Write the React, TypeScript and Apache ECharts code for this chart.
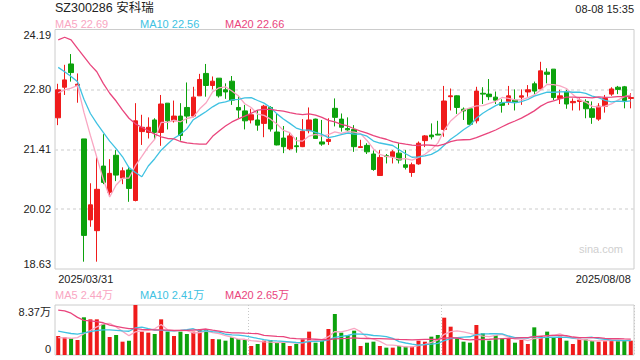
import React, { useEffect, useRef } from "react";
import * as echarts from "echarts";

const dates = [
  "2025/03/31",
  "2025/04/01","2025/04/02","2025/04/03","2025/04/07","2025/04/08","2025/04/09","2025/04/10","2025/04/11",
  "2025/04/14","2025/04/15","2025/04/16","2025/04/17","2025/04/18","2025/04/21","2025/04/22","2025/04/23",
  "2025/04/24","2025/04/25","2025/04/28","2025/04/29","2025/04/30",
  "2025/05/06","2025/05/07","2025/05/08","2025/05/09","2025/05/12","2025/05/13","2025/05/14","2025/05/15",
  "2025/05/16","2025/05/19","2025/05/20","2025/05/21","2025/05/22","2025/05/23","2025/05/26","2025/05/27",
  "2025/05/28","2025/05/29","2025/05/30",
  "2025/06/03","2025/06/04","2025/06/05","2025/06/06","2025/06/09","2025/06/10","2025/06/11","2025/06/12",
  "2025/06/13","2025/06/16","2025/06/17","2025/06/18","2025/06/19","2025/06/20","2025/06/23","2025/06/24",
  "2025/06/25","2025/06/26","2025/06/27","2025/06/30",
  "2025/07/01","2025/07/02","2025/07/03","2025/07/04","2025/07/07","2025/07/08","2025/07/09","2025/07/10",
  "2025/07/11","2025/07/14","2025/07/15","2025/07/16","2025/07/17","2025/07/18","2025/07/21","2025/07/22",
  "2025/07/23","2025/07/24","2025/07/25","2025/07/28","2025/07/29","2025/07/30","2025/07/31",
  "2025/08/01","2025/08/04","2025/08/05","2025/08/06","2025/08/07","2025/08/08",
];

const opens = [
  22.14, 22.85, 23.39, 22.89, 21.65, 19.77, 19.52, 21.02, 20.41, 21.27,
  20.74, 20.93, 20.22, 21.82, 21.80, 22.09, 21.80, 22.48, 22.07, 22.18,
  22.38, 22.18, 22.65, 23.17, 22.89, 23.06, 22.79, 22.99, 22.38, 22.30,
  22.09, 22.09, 22.01, 22.38, 21.81, 21.67, 21.42, 21.49, 21.47, 21.84,
  22.11, 21.58, 21.59, 22.36, 22.11, 21.89, 21.87, 21.45, 21.50, 21.30,
  20.80, 21.26, 21.24, 21.32, 21.05, 20.87, 21.07, 21.61, 21.74, 21.76,
  21.87, 22.63, 22.65, 22.34, 22.35, 22.07, 22.71, 22.69, 22.62, 22.49,
  22.52, 22.55, 22.62, 22.74, 22.93, 22.81, 23.20, 23.27, 22.59, 22.74,
  22.49, 22.52, 22.52, 22.35, 22.11, 22.41, 22.69, 22.85, 22.86, 22.59,
];
const closes = [
  22.79, 23.02, 23.19, 22.92, 19.41, 20.12, 20.48, 20.64, 20.85, 20.81,
  20.91, 20.50, 22.07, 21.92, 21.92, 21.80, 22.46, 22.07, 22.18, 21.73,
  22.18, 22.62, 23.03, 22.89, 22.99, 22.65, 22.74, 22.55, 22.32, 22.07,
  22.21, 21.97, 22.41, 21.88, 21.51, 21.47, 21.72, 21.47, 21.83, 22.09,
  21.66, 21.53, 21.64, 22.15, 21.92, 21.86, 21.47, 21.47, 21.35, 20.94,
  21.22, 21.24, 21.35, 21.16, 20.99, 21.05, 21.55, 21.72, 21.70, 21.74,
  22.53, 22.65, 22.38, 22.30, 21.99, 22.76, 22.69, 22.63, 22.55, 22.43,
  22.65, 22.51, 22.65, 22.79, 22.76, 23.23, 23.15, 22.61, 22.65, 22.46,
  22.52, 22.55, 22.35, 22.15, 22.41, 22.59, 22.81, 22.80, 22.54, 22.61,
];
const lows = [
  21.97, 22.67, 22.98, 22.49, 18.80, 19.61, 18.80, 20.60, 20.33, 20.67,
  20.60, 20.19, 20.20, 21.51, 21.66, 21.63, 21.49, 21.87, 22.03, 21.61,
  22.01, 22.15, 22.65, 22.63, 22.80, 22.61, 22.58, 22.44, 22.13, 21.87,
  22.01, 21.84, 21.69, 21.82, 21.50, 21.32, 21.39, 21.33, 21.46, 21.78,
  21.65, 21.49, 21.51, 21.94, 21.82, 21.84, 21.35, 21.45, 21.30, 20.91,
  20.79, 21.08, 21.08, 21.08, 20.94, 20.77, 21.05, 21.46, 21.64, 21.74,
  21.70, 22.31, 22.23, 22.09, 21.97, 22.01, 22.46, 22.55, 22.46, 22.26,
  22.44, 22.31, 22.44, 22.63, 22.69, 22.80, 22.94, 22.55, 22.46, 22.35,
  22.31, 22.31, 22.13, 22.00, 22.07, 22.26, 22.65, 22.69, 22.36, 22.36,
];
const highs = [
  22.93, 23.37, 23.62, 23.17, 21.65, 20.62, 21.22, 21.76, 21.18, 21.39,
  20.99, 21.01, 22.48, 22.21, 22.15, 22.13, 22.67, 22.48, 22.54, 22.48,
  22.96, 22.86, 23.16, 23.39, 23.10, 23.06, 22.94, 23.11, 22.65, 22.44,
  22.35, 22.32, 22.44, 22.41, 22.24, 21.95, 21.78, 21.69, 22.11, 22.38,
  22.12, 22.09, 22.13, 22.59, 22.24, 22.15, 21.97, 21.63, 21.55, 21.38,
  21.39, 21.30, 21.39, 21.55, 21.39, 21.10, 21.59, 21.74, 22.01, 22.07,
  22.88, 22.82, 22.66, 22.38, 22.35, 22.86, 22.85, 23.04, 22.75, 22.57,
  22.88, 22.80, 22.80, 22.90, 22.98, 23.44, 23.29, 23.27, 22.79, 22.79,
  22.59, 22.59, 22.57, 22.52, 22.48, 22.67, 22.85, 22.88, 22.88, 22.71,
];

// volumes in 万
const volumes = [
  3.18, 2.96, 2.79, 2.51, 6.31, 5.97, 5.97, 5.19, 3.01, 3.35,
  2.23, 2.40, 8.37, 3.91, 3.74, 3.52, 5.97, 3.91, 3.18, 3.91,
  3.52, 3.91, 4.30, 4.30, 2.68, 2.62, 2.40, 2.96, 2.68, 2.51,
  1.51, 1.84, 2.40, 2.51, 2.06, 2.06, 1.51, 1.84, 2.62, 3.91,
  2.06, 2.40, 4.35, 6.86, 3.74, 3.35, 4.07, 1.51, 2.06, 2.23,
  1.51, 1.23, 1.23, 1.51, 1.40, 1.40, 2.40, 2.23, 3.07, 3.35,
  6.25, 4.74, 2.79, 2.23, 2.06, 5.02, 3.63, 2.40, 3.35, 2.79,
  2.79, 2.06, 2.51, 1.84, 4.63, 3.18, 3.91, 2.96, 3.07, 2.40,
  1.84, 2.73, 2.62, 2.34, 2.23, 2.30, 2.50, 2.50, 2.50, 2.40,
];

// leading moving-average values (their windows reach before the visible range)
const priceMa5Lead = [22.72, 22.79, 22.83, 22.89];
const priceMa10Lead = [23.31, 23.21, 23.1, 22.98, 22.57, 22.24, 22.01, 21.8, 21.6];
const priceMa20Lead = [
  23.95, 24.01, 23.95, 23.75, 23.56, 23.37, 23.21, 22.94, 22.71, 22.53,
  22.32, 22.13, 22.0, 21.92, 21.84, 21.76, 21.7, 21.66, 21.65,
];
const volMa5Lead = [2.9, 2.85, 2.8, 2.9];
const volMa10Lead = [4.0, 3.8, 3.6, 3.5, 3.7, 3.9, 4.1, 4.2, 4.2];
const volMa20Lead = [
  7.5, 7.4, 7.0, 6.3, 5.8, 5.7, 5.6, 5.4, 5.0, 4.8,
  4.6, 4.4, 4.4, 4.3, 4.25, 4.2, 4.2, 4.15, 4.1,
];

const priceTickLabels = ["18.63", "20.02", "21.41", "22.80", "24.19"];
const volTickLabels = ["0", "8.37万"];
const priceMaLegend = ["MA5 22.69", "MA10 22.56", "MA20 22.66"];
const volMaLegend = ["MA5 2.44万", "MA10 2.41万", "MA20 2.65万"];
const titleText = "SZ300286 安科瑞";
const timeText = "08-08 15:35";

const RED = "#ef1b1b";
const GREEN = "#0ca20c";
const MA5C = "#f9a6c2";
const MA10C = "#40c2e2";
const MA20C = "#e9457d";
const FONT = "'Liberation Sans', Arial, 'Noto Sans CJK SC', sans-serif";

function movingAverage(values: number[], n: number, lead: number[]) {
  return values.map((_, i) => {
    if (i < lead.length) return lead[i];
    let s = 0;
    for (let k = i - n + 1; k <= i; k++) s += values[k];
    return Math.round((s / n) * 1000) / 1000;
  });
}

export default function App() {
  const ref = useRef<HTMLDivElement>(null);
  useEffect(() => {
    if (!ref.current) return;
    const chart = echarts.init(ref.current, undefined, { renderer: "svg" });
    const candleData = opens.map((o, i) => [o, closes[i], lows[i], highs[i]]);
    const volData = volumes.map((v, i) => ({
      value: v,
      itemStyle: { color: closes[i] >= opens[i] ? RED : GREEN },
    }));
    const maLine = (name: string, data: number[], color: string, axis: number) => ({
      name,
      type: "line",
      xAxisIndex: axis,
      yAxisIndex: axis,
      data,
      symbol: "none",
      showSymbol: false,
      silent: true,
      lineStyle: { color, width: 1.3 },
      z: 3,
    });
    const legendColors = [MA5C, MA10C, MA20C];
    const legendX = [55, 140, 225];
    const graphic: any[] = [
      {
        type: "text",
        x: 55,
        y: 8,
        style: { text: titleText, fontSize: 12.5, fill: "#222", fontFamily: FONT, align: "left", verticalAlign: "middle" },
      },
      {
        type: "text",
        x: 634,
        y: 9,
        style: { text: timeText, fontSize: 11, fill: "#222", fontFamily: FONT, align: "right", verticalAlign: "middle" },
      },
      {
        type: "text",
        x: 623,
        y: 249,
        style: { text: "sina.com", fontSize: 11, fill: "#cfcfcf", fontFamily: FONT, align: "right", verticalAlign: "middle" },
      },
    ];
    priceMaLegend.forEach((t, k) =>
      graphic.push({
        type: "text",
        x: legendX[k],
        y: 24,
        style: { text: t, fontSize: 11, fill: legendColors[k], fontFamily: FONT, align: "left", verticalAlign: "middle" },
      })
    );
    volMaLegend.forEach((t, k) =>
      graphic.push({
        type: "text",
        x: legendX[k],
        y: 295,
        style: { text: t, fontSize: 11, fill: legendColors[k], fontFamily: FONT, align: "left", verticalAlign: "middle" },
      })
    );

    const labelStyle = { fontSize: 11, color: "#222", fontFamily: FONT };
    chart.setOption({
      animation: false,
      backgroundColor: "#fff",
      graphic,
      grid: [
        { left: 55, right: 6, top: 29.5, height: 239.5, show: true, borderColor: "#cccccc", borderWidth: 1 },
        { left: 55, right: 6, top: 305, bottom: 5, show: true, borderColor: "#cccccc", borderWidth: 1 },
      ],
      xAxis: [
        {
          type: "category",
          gridIndex: 0,
          data: dates,
          boundaryGap: true,
          axisLine: { show: false },
          axisTick: { show: false },
          splitLine: { show: false },
          axisLabel: {
            ...labelStyle,
            margin: 4,
            interval: (i: number) => i === 0 || i === dates.length - 1,
            alignMinLabel: "left",
            alignMaxLabel: "right",
          },
        },
        {
          type: "category",
          gridIndex: 1,
          data: dates,
          boundaryGap: true,
          axisLine: { show: false },
          axisTick: { show: false },
          axisLabel: { show: false },
          splitLine: {
            show: true,
            interval: (i: number) => i === 30 || i === 60,
            lineStyle: { color: "#c8c8c8", type: [1, 2], width: 1 },
          },
        },
      ],
      yAxis: [
        {
          type: "value",
          gridIndex: 0,
          min: 18.63,
          max: 24.19,
          interval: 1.39,
          axisLine: { show: false },
          axisTick: { show: false },
          splitLine: {
            show: true,
            showMinLine: false,
            showMaxLine: false,
            lineStyle: { color: "#dddddd", type: [3, 3], width: 1.5 },
          },
          axisLabel: {
            ...labelStyle,
            margin: 4,
            formatter: (_v: number, idx: number) => {
              const t = priceTickLabels[idx];
              if (idx === 0) return `{b|${t}}`;
              if (idx === priceTickLabels.length - 1) return `{t|${t}}`;
              return `{m|${t}}`;
            },
            rich: {
              b: { ...labelStyle, padding: [0, 0, 10, 0] },
              t: { ...labelStyle, padding: [11, 0, 0, 0] },
              m: { ...labelStyle },
            },
          },
        },
        {
          type: "value",
          gridIndex: 1,
          min: 0,
          max: 8.37,
          interval: 8.37,
          axisLine: { show: false },
          axisTick: { show: false },
          splitLine: { show: false },
          axisLabel: {
            ...labelStyle,
            margin: 4,
            formatter: (_v: number, idx: number) => {
              const t = volTickLabels[idx];
              return idx === 0 ? `{b|${t}}` : `{t|${t}}`;
            },
            rich: {
              b: { ...labelStyle, padding: [0, 0, 13, 0] },
              t: { ...labelStyle, padding: [14, 0, 0, 0] },
            },
          },
        },
      ],
      series: [
        {
          type: "candlestick",
          xAxisIndex: 0,
          yAxisIndex: 0,
          data: candleData,
          barWidth: 5,
          itemStyle: { color: RED, color0: GREEN, borderColor: RED, borderColor0: GREEN, borderWidth: 1 },
          z: 2,
        },
        maLine("MA5", movingAverage(closes, 5, priceMa5Lead), MA5C, 0),
        maLine("MA10", movingAverage(closes, 10, priceMa10Lead), MA10C, 0),
        maLine("MA20", movingAverage(closes, 20, priceMa20Lead), MA20C, 0),
        {
          type: "bar",
          xAxisIndex: 1,
          yAxisIndex: 1,
          data: volData,
          barWidth: 4,
          z: 2,
        },
        maLine("VMA5", movingAverage(volumes, 5, volMa5Lead), MA5C, 1),
        maLine("VMA10", movingAverage(volumes, 10, volMa10Lead), MA10C, 1),
        maLine("VMA20", movingAverage(volumes, 20, volMa20Lead), MA20C, 1),
      ],
    });
    return () => chart.dispose();
  }, []);
  return <div ref={ref} style={{ width: 640, height: 360, position: "absolute", left: 0, top: 0 }} />;
}
